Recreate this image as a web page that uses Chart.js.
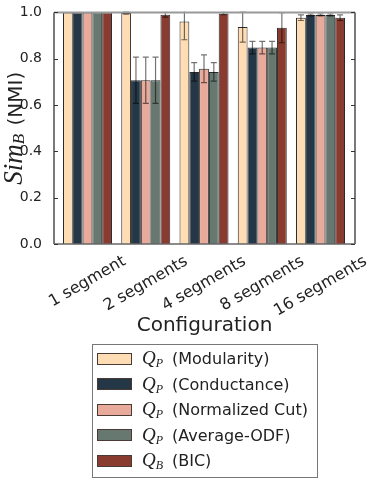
<!DOCTYPE html>
<html><head><meta charset="utf-8">
<script src="https://cdn.jsdelivr.net/npm/chart.js@4/dist/chart.umd.min.js"></script>
<style>html,body{margin:0;padding:0;background:#fff}#wrap{width:374px;height:482px;position:relative}</style>
</head><body><div id="wrap"><canvas id="c" width="374" height="482"></canvas></div>
<script>
const categories = ['1 segment','2 segments','4 segments','8 segments','16 segments'];
const seriesLabels = ['Q_P (Modularity)','Q_P (Conductance)','Q_P (Normalized Cut)','Q_P (Average-ODF)','Q_B (BIC)'];
const modularity       = [1.0, 0.997, 0.961, 0.937, 0.977];
const modularityErr    = [0,   0.005, 0.079, 0.065, 0.012];
const conductance      = [1.0, 0.707, 0.743, 0.848, 0.989];
const conductanceErr   = [0,   0.100, 0.040, 0.027, 0.004];
const normalizedCut    = [1.0, 0.707, 0.757, 0.848, 0.989];
const normalizedCutErr = [0,   0.100, 0.060, 0.027, 0.004];
const averageODF       = [1.0, 0.707, 0.743, 0.848, 0.989];
const averageODFErr    = [0,   0.100, 0.040, 0.027, 0.004];
const bic              = [1.0, 0.990, 0.995, 0.934, 0.977];
const bicErr           = [0,   0.010, 0.005, 0.065, 0.012];
const yTicks = [0, 0.2, 0.4, 0.6, 0.8, 1.0];
const xTitle = 'Configuration';
const yTitleMath = ['Sim', 'B'];
const yTitleText = ' (NMI)';
const colors = ['#FFDDB4','#243746','#E8AA9B','#667870','#8A3B2F'];

const values = [modularity, conductance, normalizedCut, averageODF, bic];
const errs = [modularityErr, conductanceErr, normalizedCutErr, averageODFErr, bicErr];

Chart.defaults.font.family = "'DejaVu Sans'";
Chart.defaults.color = '#222';

const decor = {
  id: 'decor',
  beforeDraw(chart) {
    // centre each rotated tick label on its group (matplotlib-style centring)
    const sx = chart.scales.x;
    if (sx._centred) return;
    const items = sx.getLabelItems();
    const ctx = chart.ctx;
    const cos = Math.cos(Math.PI / 6);
    ctx.save();
    items.forEach(it => {
      ctx.font = it.font.string;
      const w = ctx.measureText(String(it.label)).width;
      it.options.translation[0] += w * cos / 2;
    });
    ctx.restore();
    sx._centred = true;
  },
  afterDatasetsDraw(chart) {
    const {ctx, chartArea: a, scales: {y}} = chart;
    ctx.save();
    ctx.beginPath();
    ctx.rect(a.left, a.top - 1, a.right - a.left, a.bottom - a.top + 1);
    ctx.clip();
    chart.data.datasets.forEach((ds, di) => {
      const meta = chart.getDatasetMeta(di);
      meta.data.forEach((bar, i) => {
        const e = ds.errors[i];
        if (!e) return;
        const v = ds.data[i].y;
        const y1 = y.getPixelForValue(v + e), y2 = y.getPixelForValue(v - e);
        ctx.strokeStyle = 'rgba(0,0,0,0.55)';
        ctx.lineWidth = 1.2;
        ctx.beginPath();
        ctx.moveTo(bar.x, y1); ctx.lineTo(bar.x, y2);
        ctx.moveTo(bar.x - 3, y1); ctx.lineTo(bar.x + 3, y1);
        ctx.moveTo(bar.x - 3, y2); ctx.lineTo(bar.x + 3, y2);
        ctx.stroke();
      });
    });
    ctx.restore();
    // frame
    ctx.save();
    ctx.strokeStyle = '#333'; ctx.lineWidth = 1.3;
    ctx.beginPath();
    ctx.moveTo(a.left, a.top); ctx.lineTo(a.left, a.bottom);
    ctx.moveTo(a.right, a.top); ctx.lineTo(a.right, a.bottom);
    ctx.stroke();
    ctx.strokeStyle = '#999'; ctx.lineWidth = 2;
    ctx.beginPath(); ctx.moveTo(a.left, a.top); ctx.lineTo(a.right, a.top); ctx.stroke();
    ctx.strokeStyle = '#666'; ctx.lineWidth = 1.5;
    ctx.beginPath(); ctx.moveTo(a.left, a.bottom); ctx.lineTo(a.right, a.bottom); ctx.stroke();
    ctx.strokeStyle = '#333'; ctx.lineWidth = 1;
    y.ticks.forEach(t => {
      const py = Math.round(y.getPixelForValue(t.value)) + 0.5;
      ctx.beginPath();
      ctx.moveTo(a.left, py); ctx.lineTo(a.left + 4, py);
      ctx.moveTo(a.right, py); ctx.lineTo(a.right - 4, py);
      ctx.stroke();
    });
    ctx.restore();
  },
  afterDraw(chart) {
    const {ctx, chartArea: a} = chart;
    // y title
    ctx.save();
    const cy = (a.top + a.bottom) / 2;
    const f1 = "italic 27px 'Liberation Serif'", f2 = "italic 17px 'Liberation Serif'", f3 = "20px 'DejaVu Sans'";
    ctx.font = f1; const w1 = ctx.measureText(yTitleMath[0]).width;
    ctx.font = f2; const w2 = ctx.measureText(yTitleMath[1]).width;
    ctx.font = f3; const w3 = ctx.measureText(yTitleText).width;
    const W = w1 + w2 + 2 + w3;
    ctx.translate(22, cy);
    ctx.rotate(-Math.PI / 2);
    ctx.fillStyle = '#222';
    ctx.textBaseline = 'alphabetic';
    ctx.textAlign = 'left';
    let x0 = -W / 2;
    ctx.font = f1; ctx.fillText(yTitleMath[0], x0, 0); x0 += w1;
    ctx.font = f2; ctx.fillText(yTitleMath[1], x0, 2); x0 += w2 + 2;
    ctx.font = f3; ctx.fillText(yTitleText, x0, 0);
    ctx.restore();
    // legend
    ctx.save();
    ctx.strokeStyle = '#777'; ctx.lineWidth = 1;
    ctx.fillStyle = '#fff';
    ctx.fillRect(92.5, 344.5, 225, 133);
    ctx.strokeRect(92.5, 344.5, 225, 133);
    chart.data.datasets.forEach((ds, i) => {
      const yc = 358 + i * 25.5;
      ctx.fillStyle = ds.backgroundColor;
      ctx.fillRect(97.5, Math.round(yc - 5.5) + 0.5, 34, 11);
      ctx.strokeStyle = '#4a3a36'; ctx.lineWidth = 1;
      ctx.strokeRect(97.5, Math.round(yc - 5.5) + 0.5, 34, 11);
      const m = ds.label.match(/^(\w)_(\w)\s+(.*)$/);
      ctx.fillStyle = '#222';
      ctx.textBaseline = 'alphabetic';
      ctx.font = "italic 19px 'Liberation Serif'";
      ctx.fillText(m[1], 142, yc + 6);
      const wq = ctx.measureText(m[1]).width;
      ctx.font = "italic 12px 'Liberation Serif'";
      ctx.fillText(m[2], 142 + wq, yc + 9);
      ctx.font = "16px 'DejaVu Sans'";
      ctx.fillText(m[3], 172, yc + 6);
    });
    ctx.restore();
  }
};

const datasets = values.map((vals, k) => ({
  label: seriesLabels[k],
  data: vals.map((v, i) => ({x: i, y: v})),
  errors: errs[k],
  backgroundColor: colors[k],
  borderColor: '#2b2b2b',
  borderWidth: 1,
  categoryPercentage: 0.841,
  barPercentage: 1.0
}));

new Chart(document.getElementById('c'), {
  type: 'bar',
  data: {datasets},
  plugins: [decor],
  options: {
    responsive: false,
    animation: false,
    devicePixelRatio: 1,
    layout: {padding: {left: 0, right: 19, top: 12, bottom: 142}},
    plugins: {legend: {display: false}, tooltip: {enabled: false}},
    scales: {
      x: {
        type: 'linear',
        min: -0.575, max: 4.592,
        offset: false,
        grid: {display: false},
        border: {display: false},
        afterBuildTicks: s => { s.ticks = categories.map((c, i) => ({value: i})); },
        afterFit: s => { s.height = 96; },
        ticks: {
          autoSkip: false, minRotation: 30, maxRotation: 30,
          labelOffset: 0, padding: 0,
          font: {size: 16}, color: '#222',
          callback: v => categories[v]
        },
        title: {display: true, text: xTitle, font: {size: 20}, color: '#222', padding: {top: 0, bottom: 2}}
      },
      y: {
        min: 0, max: 1,
        grid: {display: false},
        border: {display: false},
        afterBuildTicks: s => { s.ticks = yTicks.map(v => ({value: v})); },
        afterFit: s => { s.width = 54; },
        ticks: {padding: 4, font: {size: 14}, color: '#222', callback: v => Number(v).toFixed(1)}
      }
    }
  }
});
</script>
</body></html>
